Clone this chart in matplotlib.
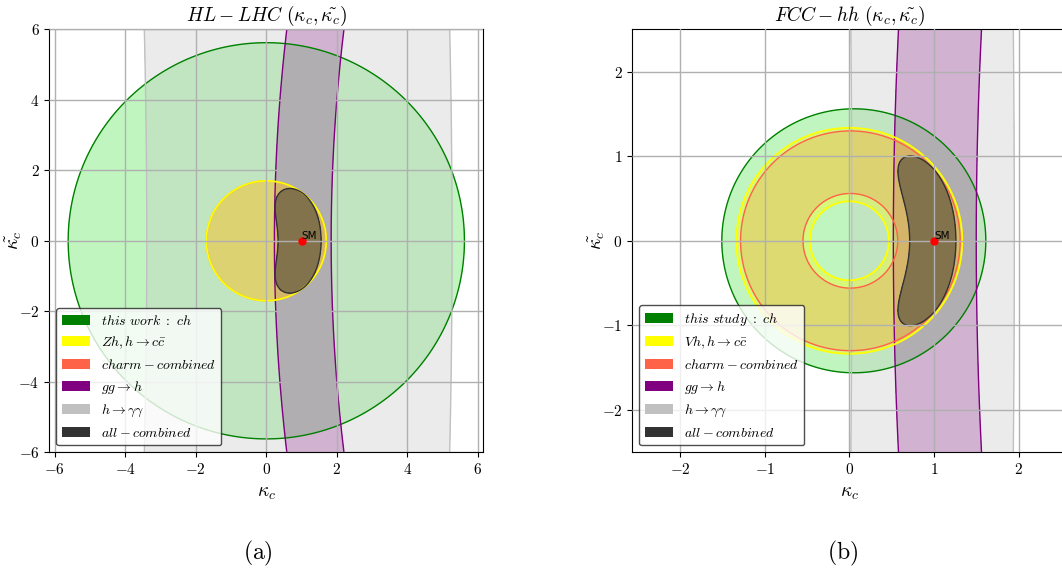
import numpy as np
import matplotlib.pyplot as plt
from matplotlib.patches import Patch
from matplotlib.ticker import FuncFormatter

plt.rcParams['mathtext.fontset'] = 'cm'

# HL-LHC, panel (a): outer radii of the rate circles, band edges at kappa_tilde = 0
hl_ch_rmax = 5.62
hl_ch_centre = 0.0
hl_zh_rmax = 1.70
hl_gg_edges = [0.23, 1.84]
hl_aa_edges = [-3.39, 5.27]

# FCC-hh, panel (b)
fcc_ch_rmax = 1.56
fcc_ch_centre = 0.053
fcc_vh_rmax = 1.335
fcc_gg_edges = [0.52, 1.50]
fcc_aa_edges = [0.03, 1.95]

# centres of curvature of the loop induced bands (gg -> h, h -> gamma gamma)
gg_centre = 51.6
aa_centre = -260.0

hl_ticks = [-6, -4, -2, 0, 2, 4, 6]
fcc_ticks = [-2, -1, 0, 1, 2]

labels_hl = [r'$this\ work\ :\ ch$', r'$Zh, h \rightarrow c\bar{c}$', r'$charm-combined$',
             r'$gg \rightarrow h$', r'$h \rightarrow \gamma\gamma$', r'$all-combined$']
labels_fcc = [r'$this\ study\ :\ ch$', r'$Vh, h \rightarrow c\bar{c}$', r'$charm-combined$',
              r'$gg \rightarrow h$', r'$h \rightarrow \gamma\gamma$', r'$all-combined$']
colors = ['green', 'yellow', 'tomato', 'purple', 'silver', '#333333']


def ring(r2, rmax):
    return ((r2 - 1) / (rmax**2 - 1))**2


def band(v, edges):
    m = 0.5 * (edges[0] + edges[1])
    h = 0.5 * (edges[1] - edges[0])
    return ((v - m) / h)**2


def panel(ax, lim, ticks, ch_rmax, ch_centre, zh_rmax, gg_edges, aa_edges, labels, title):
    xl = lim * 1.026
    x = np.linspace(-xl, xl, 800)
    y = np.linspace(-lim, lim, 800)
    X, Y = np.meshgrid(x, y)
    r2 = X**2 + Y**2
    c_ch = ring((X - ch_centre)**2 + Y**2, ch_rmax)
    c_zh = ring(r2, zh_rmax)
    g = gg_centre - np.sqrt((gg_centre - X)**2 + Y**2)
    a = aa_centre + np.sqrt((X - aa_centre)**2 + Y**2)
    c_gg = band(g, gg_edges)
    c_aa = band(a, aa_edges)
    c_charm = c_ch + c_zh
    c_all = c_charm + c_gg + c_aa

    fills = [(c_ch, 'lightgreen', 0.57), (c_aa, 'silver', 0.3), (c_gg, 'purple', 0.24),
             (c_zh, 'yellow', 0.35), (c_charm, 'tomato', 0.2), (c_all, '#333333', 0.5)]
    for field, fc, al in fills:
        ax.contourf(X, Y, field, levels=[0, 1], colors=[fc], alpha=al)
    edges = [(c_ch, 'green', 1), (c_aa, 'silver', 1), (c_gg, 'purple', 1),
             (c_charm, 'tomato', 1), (c_zh, 'yellow', 1.3), (c_all, '#333333', 1)]
    for field, ec, lw in edges:
        ax.contour(X, Y, field, levels=[1], colors=[ec], linewidths=lw)

    ax.plot(1, 0, 'o', color='red', ms=5, zorder=5)
    ax.annotate('SM', (1, 0), xytext=(0, 1), textcoords='offset points',
                fontsize=7.5, zorder=5)

    ax.set_xlim(-xl, xl)
    ax.set_ylim(-lim, lim)
    ax.set_xticks(ticks)
    ax.set_yticks(ticks)
    fmt = FuncFormatter(lambda v, p: f'${v:g}$')
    ax.xaxis.set_major_formatter(fmt)
    ax.yaxis.set_major_formatter(fmt)
    ax.tick_params(labelsize=11)
    ax.grid(True, color='#b0b0b0', lw=1)
    ax.set_axisbelow(False)
    ax.set_title(title, fontsize=14)
    ax.set_xlabel(r'$\kappa_c$', fontsize=14)
    ax.set_ylabel(r'$\tilde{\kappa_c}$', fontsize=14)
    ax.yaxis.set_label_coords(-0.058, 0.5)

    handles = [Patch(facecolor=c) for c in colors]
    leg = ax.legend(handles, labels, loc='lower left', fontsize=10, framealpha=0.8)
    leg.get_frame().set_edgecolor('#222222')


fig = plt.figure(figsize=(10.62, 5.69), dpi=100)
ax1 = fig.add_axes([0.0464, 0.2051, 0.4087, 0.7434])
ax2 = fig.add_axes([0.5954, 0.2051, 0.4087, 0.7434])

panel(ax1, 6, hl_ticks, hl_ch_rmax, hl_ch_centre, hl_zh_rmax, hl_gg_edges, hl_aa_edges,
      labels_hl, r'$HL-LHC\ (\kappa_c,\tilde{\kappa_c})$')
panel(ax2, 2.5, fcc_ticks, fcc_ch_rmax, fcc_ch_centre, fcc_vh_rmax, fcc_gg_edges,
      fcc_aa_edges, labels_fcc, r'$FCC-hh\ (\kappa_c,\tilde{\kappa_c})$')

fig.text(0.243, 0.028, r'$\mathrm{(a)}$', fontsize=17, ha='center', va='center')
fig.text(0.793, 0.028, r'$\mathrm{(b)}$', fontsize=17, ha='center', va='center')

fig.savefig('out.png', dpi=100)
